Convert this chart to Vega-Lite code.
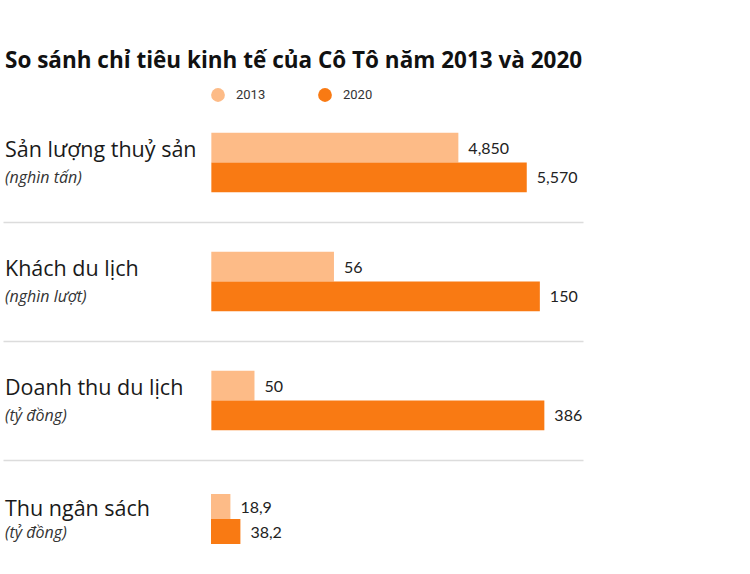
{
  "$schema": "https://vega.github.io/schema/vega-lite/v6.json",
  "padding": {"left": 3, "top": 49, "right": 5, "bottom": 5},
  "background": "white",
  "title": {"text": "So sánh chỉ tiêu kinh tế của Cô Tô năm 2013 và 2020", "anchor": "start", "font": "Open Sans", "fontSize": 22.5, "fontWeight": "bold", "color": "#111111", "offset": 16, "dx": 2},
  "data": {"values": [
    {"group": "Sản lượng thuỷ sản", "unit": "(nghìn tấn)", "year": "2013", "value": 4850, "label": "4,850"},
    {"group": "Sản lượng thuỷ sản", "unit": "(nghìn tấn)", "year": "2020", "value": 5570, "label": "5,570"},
    {"group": "Khách du lịch", "unit": "(nghìn lượt)", "year": "2013", "value": 56, "label": "56"},
    {"group": "Khách du lịch", "unit": "(nghìn lượt)", "year": "2020", "value": 150, "label": "150"},
    {"group": "Doanh thu du lịch", "unit": "(tỷ đồng)", "year": "2013", "value": 50, "label": "50"},
    {"group": "Doanh thu du lịch", "unit": "(tỷ đồng)", "year": "2020", "value": 386, "label": "386"},
    {"group": "Thu ngân sách", "unit": "(tỷ đồng)", "year": "2013", "value": 18.9, "label": "18,9"},
    {"group": "Thu ngân sách", "unit": "(tỷ đồng)", "year": "2020", "value": 38.2, "label": "38,2"}
  ]},
  "spacing": 0,
  "bounds": "flush",
  "resolve": {"scale": {"color": "independent", "x": "independent", "y": "independent"}, "legend": {"color": "independent"}},
  "config": {
    "view": {"stroke": null},
    "font": "Open Sans"
  },
  "vconcat": [
    {
      "width": 580, "height": 119,
      "transform": [{"filter": "datum.group === 'Sản lượng thuỷ sản'"}],
      "encoding": {"y": {"field": "year", "type": "nominal", "scale": {"domain": ["2013", "2020"], "paddingInner": 0, "paddingOuter": 1.38}, "axis": null}},
      "layer": [
        {"mark": {"type": "bar"},
         "encoding": {
           "x": {"field": "value", "type": "quantitative", "scale": {"domain": [57, 6162], "zero": false, "nice": false}, "axis": {"domain": true, "domainColor": "#dcdcdc", "domainWidth": 1.5, "ticks": false, "labels": false, "grid": false, "title": null}},
           "x2": {"datum": 2250},
           "color": {"field": "year", "type": "nominal", "scale": {"domain": ["2013", "2020"], "range": ["#FDBB87", "#F97A13"]},
             "legend": {"orient": "none", "legendX": 208, "legendY": -15, "direction": "horizontal", "title": null, "symbolType": "circle", "symbolSize": 190, "symbolStrokeWidth": 0, "symbolOpacity": 1, "labelFont": "Roboto", "labelFontSize": 13, "labelColor": "#333333", "labelOffset": 11, "columnPadding": 52, "padding": 0}}
         }},
        {"mark": {"type": "text", "align": "left", "baseline": "middle", "dx": 10, "dy": 1, "font": "Lato", "fontSize": 16, "color": "#222222"},
         "encoding": {"x": {"field": "value", "type": "quantitative", "axis": {"domain": true, "domainColor": "#dcdcdc", "domainWidth": 1.5, "ticks": false, "labels": false, "grid": false, "title": null}}, "text": {"field": "label"}}},
        {"transform": [{"filter": "datum.year === '2013'"}],
         "mark": {"type": "text", "align": "left", "baseline": "middle", "dx": 2, "dy": 3.5, "fontSize": 21.5, "color": "#1a1a1a"},
         "encoding": {"x": {"datum": 57, "axis": {"domain": true, "domainColor": "#dcdcdc", "domainWidth": 1.5, "ticks": false, "labels": false, "grid": false, "title": null}}, "text": {"field": "group"}}},
        {"transform": [{"filter": "datum.year === '2013'"}],
         "mark": {"type": "text", "align": "left", "baseline": "middle", "dx": 2, "dy": 1, "fontSize": 16, "fontStyle": "italic", "color": "#333333"},
         "encoding": {"x": {"datum": 57, "axis": {"domain": true, "domainColor": "#dcdcdc", "domainWidth": 1.5, "ticks": false, "labels": false, "grid": false, "title": null}}, "y": {"datum": "2020"}, "text": {"field": "unit"}}}
      ]
    },
    {
      "width": 580, "height": 119,
      "transform": [{"filter": "datum.group === 'Khách du lịch'"}],
      "encoding": {"y": {"field": "year", "type": "nominal", "scale": {"domain": ["2013", "2020"], "paddingInner": 0, "paddingOuter": 1.38}, "axis": null}},
      "layer": [
        {"mark": {"type": "bar"},
         "encoding": {
           "x": {"field": "value", "type": "quantitative", "scale": {"domain": [-95.1, 169.7], "zero": false, "nice": false}, "axis": {"domain": true, "domainColor": "#dcdcdc", "domainWidth": 1.5, "ticks": false, "labels": false, "grid": false, "title": null}},
           "color": {"field": "year", "type": "nominal", "scale": {"domain": ["2013", "2020"], "range": ["#FDBB87", "#F97A13"]}, "legend": null}
         }},
        {"mark": {"type": "text", "align": "left", "baseline": "middle", "dx": 10, "dy": 1, "font": "Lato", "fontSize": 16, "color": "#222222"},
         "encoding": {"x": {"field": "value", "type": "quantitative", "axis": {"domain": true, "domainColor": "#dcdcdc", "domainWidth": 1.5, "ticks": false, "labels": false, "grid": false, "title": null}}, "text": {"field": "label"}}},
        {"transform": [{"filter": "datum.year === '2013'"}],
         "mark": {"type": "text", "align": "left", "baseline": "middle", "dx": 2, "dy": 3.5, "fontSize": 21.5, "color": "#1a1a1a"},
         "encoding": {"x": {"datum": -95.1, "axis": {"domain": true, "domainColor": "#dcdcdc", "domainWidth": 1.5, "ticks": false, "labels": false, "grid": false, "title": null}}, "text": {"field": "group"}}},
        {"transform": [{"filter": "datum.year === '2013'"}],
         "mark": {"type": "text", "align": "left", "baseline": "middle", "dx": 2, "dy": 1, "fontSize": 16, "fontStyle": "italic", "color": "#333333"},
         "encoding": {"x": {"datum": -95.1, "axis": {"domain": true, "domainColor": "#dcdcdc", "domainWidth": 1.5, "ticks": false, "labels": false, "grid": false, "title": null}}, "y": {"datum": "2020"}, "text": {"field": "unit"}}}
      ]
    },
    {
      "width": 580, "height": 119,
      "transform": [{"filter": "datum.group === 'Doanh thu du lịch'"}],
      "encoding": {"y": {"field": "year", "type": "nominal", "scale": {"domain": ["2013", "2020"], "paddingInner": 0, "paddingOuter": 1.38}, "axis": null}},
      "layer": [
        {"mark": {"type": "bar"},
         "encoding": {
           "x": {"field": "value", "type": "quantitative", "scale": {"domain": [-241.5, 430.8], "zero": false, "nice": false}, "axis": {"domain": true, "domainColor": "#dcdcdc", "domainWidth": 1.5, "ticks": false, "labels": false, "grid": false, "title": null}},
           "color": {"field": "year", "type": "nominal", "scale": {"domain": ["2013", "2020"], "range": ["#FDBB87", "#F97A13"]}, "legend": null}
         }},
        {"mark": {"type": "text", "align": "left", "baseline": "middle", "dx": 10, "dy": 1, "font": "Lato", "fontSize": 16, "color": "#222222"},
         "encoding": {"x": {"field": "value", "type": "quantitative", "axis": {"domain": true, "domainColor": "#dcdcdc", "domainWidth": 1.5, "ticks": false, "labels": false, "grid": false, "title": null}}, "text": {"field": "label"}}},
        {"transform": [{"filter": "datum.year === '2013'"}],
         "mark": {"type": "text", "align": "left", "baseline": "middle", "dx": 2, "dy": 3.5, "fontSize": 21.5, "color": "#1a1a1a"},
         "encoding": {"x": {"datum": -241.5, "axis": {"domain": true, "domainColor": "#dcdcdc", "domainWidth": 1.5, "ticks": false, "labels": false, "grid": false, "title": null}}, "text": {"field": "group"}}},
        {"transform": [{"filter": "datum.year === '2013'"}],
         "mark": {"type": "text", "align": "left", "baseline": "middle", "dx": 2, "dy": 1, "fontSize": 16, "fontStyle": "italic", "color": "#333333"},
         "encoding": {"x": {"datum": -241.5, "axis": {"domain": true, "domainColor": "#dcdcdc", "domainWidth": 1.5, "ticks": false, "labels": false, "grid": false, "title": null}}, "y": {"datum": "2020"}, "text": {"field": "unit"}}}
      ]
    },
    {
      "width": 580, "height": 95,
      "transform": [{"filter": "datum.group === 'Thu ngân sách'"}],
      "encoding": {"y": {"field": "year", "type": "nominal", "scale": {"domain": ["2013", "2020"], "paddingInner": 0, "paddingOuter": 0.9, "align": 0.756}, "axis": null}},
      "layer": [
        {"mark": {"type": "bar"},
         "encoding": {
           "x": {"field": "value", "type": "quantitative", "scale": {"domain": [-420.1, 699.6], "zero": false, "nice": false}, "axis": null},
           "x2": {"datum": -18.6},
           "color": {"field": "year", "type": "nominal", "scale": {"domain": ["2013", "2020"], "range": ["#FDBB87", "#F97A13"]}, "legend": null}
         }},
        {"mark": {"type": "text", "align": "left", "baseline": "middle", "dx": 10, "dy": 1, "font": "Lato", "fontSize": 16, "color": "#222222"},
         "encoding": {"x": {"field": "value", "type": "quantitative", "axis": null}, "text": {"field": "label"}}},
        {"transform": [{"filter": "datum.year === '2013'"}],
         "mark": {"type": "text", "align": "left", "baseline": "middle", "dx": 2, "dy": 3.5, "fontSize": 21.5, "color": "#1a1a1a"},
         "encoding": {"x": {"datum": -420.1, "axis": null}, "text": {"field": "group"}}},
        {"transform": [{"filter": "datum.year === '2013'"}],
         "mark": {"type": "text", "align": "left", "baseline": "middle", "dx": 2, "dy": 1, "fontSize": 16, "fontStyle": "italic", "color": "#333333"},
         "encoding": {"x": {"datum": -420.1, "axis": null}, "y": {"datum": "2020"}, "text": {"field": "unit"}}}
      ]
    }
  ]
}
